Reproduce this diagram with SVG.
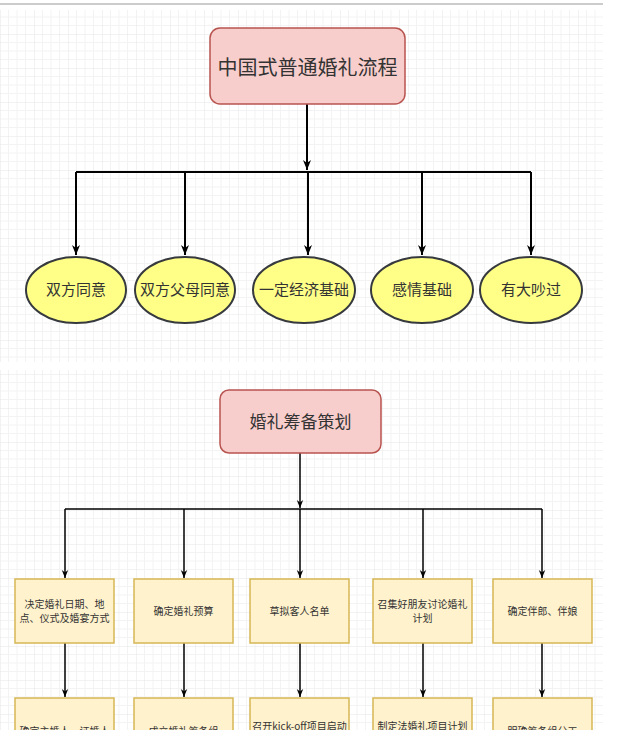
<svg xmlns="http://www.w3.org/2000/svg" width="640" height="730" viewBox="0 0 640 730">
  <defs>
    <pattern id="grid" width="34" height="34" patternUnits="userSpaceOnUse">
      <path d="M8.5 0V34M17 0V34M25.5 0V34M0 8.5H34M0 17H34M0 25.5H34" stroke="#f3f3f3" stroke-width="1" fill="none"/>
      <path d="M0 0V34M0 0H34" stroke="#e6e6e6" stroke-width="1" fill="none"/>
    </pattern>
    <marker id="arrBig" viewBox="0 0 10 10" refX="10" refY="5" markerWidth="10" markerHeight="10" markerUnits="userSpaceOnUse" orient="auto">
      <path d="M0,1 L10,5 L0,9 L3,5 z" fill="#000"/>
    </marker>
    <marker id="arrSmall" viewBox="0 0 10 10" refX="10" refY="5" markerWidth="8" markerHeight="8" markerUnits="userSpaceOnUse" orient="auto">
      <path d="M0,1 L10,5 L0,9 L3,5 z" fill="#000"/>
    </marker>
    <style>
      .root { fill: #f8cecc; stroke: #b85450; stroke-width: 1.5; }
      .ell { fill: #ffff88; stroke: #36393d; stroke-width: 2; }
      .box { fill: #fff2cc; stroke: #d6b656; stroke-width: 1.5; }
      .t { font-family: "Noto Sans CJK SC", "Noto Sans", sans-serif; fill: #333; text-anchor: middle; }
      .big { font-size: 20px; }
      .mid { font-size: 17px; }
      .el { font-size: 15px; }
      .sm { font-size: 10px; }
      .c1 { stroke: #000; stroke-width: 2; fill: none; }
      .c2 { stroke: #000; stroke-width: 1.5; fill: none; }
    </style>
  </defs>

  <rect width="640" height="730" fill="#fff"/>
  <rect x="0" y="10" width="603" height="352" fill="url(#grid)"/>
  <rect x="0" y="370" width="603" height="360" fill="url(#grid)"/>
  <line x1="0" y1="4" x2="603" y2="4" stroke="#cccccc" stroke-width="2"/>

  <g id="connectors">
    <path class="c1" d="M307 104V170" marker-end="url(#arrBig)"/>
    <path class="c1" d="M76 172H531"/>
    <path class="c1" d="M76 172V255" marker-end="url(#arrBig)"/>
    <path class="c1" d="M185 172V255" marker-end="url(#arrBig)"/>
    <path class="c1" d="M308 172V255" marker-end="url(#arrBig)"/>
    <path class="c1" d="M422 172V255" marker-end="url(#arrBig)"/>
    <path class="c1" d="M531 172V255" marker-end="url(#arrBig)"/>

    <path class="c2" d="M300 453V508" marker-end="url(#arrSmall)"/>
    <path class="c2" d="M65 509H542"/>
    <path class="c2" d="M65 509V578" marker-end="url(#arrSmall)"/>
    <path class="c2" d="M184 509V578" marker-end="url(#arrSmall)"/>
    <path class="c2" d="M300 509V578" marker-end="url(#arrSmall)"/>
    <path class="c2" d="M423 509V578" marker-end="url(#arrSmall)"/>
    <path class="c2" d="M542 509V578" marker-end="url(#arrSmall)"/>

    <path class="c2" d="M65 643V697" marker-end="url(#arrSmall)"/>
    <path class="c2" d="M184 643V697" marker-end="url(#arrSmall)"/>
    <path class="c2" d="M300 643V697" marker-end="url(#arrSmall)"/>
    <path class="c2" d="M423 643V697" marker-end="url(#arrSmall)"/>
    <path class="c2" d="M542 643V697" marker-end="url(#arrSmall)"/>
  </g>

  <g id="root1">
    <rect class="root" x="210" y="28" width="195" height="76" rx="10"/>
    <text class="t big" x="307.5" y="75">中国式普通婚礼流程</text>
  </g>
  <g id="e1">
    <ellipse class="ell" cx="76" cy="290" rx="50" ry="33"/>
    <text class="t el" x="76" y="295">双方同意</text>
  </g>
  <g id="e2">
    <ellipse class="ell" cx="185" cy="290" rx="50" ry="33"/>
    <text class="t el" x="185" y="295">双方父母同意</text>
  </g>
  <g id="e3">
    <ellipse class="ell" cx="304" cy="290" rx="51" ry="33"/>
    <text class="t el" x="304" y="295">一定经济基础</text>
  </g>
  <g id="e4">
    <ellipse class="ell" cx="422" cy="290" rx="51" ry="33"/>
    <text class="t el" x="422" y="295">感情基础</text>
  </g>
  <g id="e5">
    <ellipse class="ell" cx="531" cy="290" rx="51" ry="33"/>
    <text class="t el" x="531" y="295">有大吵过</text>
  </g>

  <g id="root2">
    <rect class="root" x="220" y="390" width="161" height="63" rx="9"/>
    <text class="t mid" x="300.5" y="428">婚礼筹备策划</text>
  </g>

  <g id="b1">
    <rect class="box" x="15" y="579" width="99" height="64"/>
    <text class="t sm" x="64.5" y="608">决定婚礼日期、地</text>
    <text class="t sm" x="64.5" y="622">点、仪式及婚宴方式</text>
  </g>
  <g id="b2">
    <rect class="box" x="134" y="579" width="99" height="64"/>
    <text class="t sm" x="183.5" y="615">确定婚礼预算</text>
  </g>
  <g id="b3">
    <rect class="box" x="250" y="579" width="99" height="64"/>
    <text class="t sm" x="299.5" y="615">草拟客人名单</text>
  </g>
  <g id="b4">
    <rect class="box" x="373" y="579" width="99" height="64"/>
    <text class="t sm" x="422.5" y="608">召集好朋友讨论婚礼</text>
    <text class="t sm" x="422.5" y="622">计划</text>
  </g>
  <g id="b5">
    <rect class="box" x="493" y="579" width="99" height="64"/>
    <text class="t sm" x="542.5" y="615">确定伴郎、伴娘</text>
  </g>

  <g id="c1">
    <rect class="box" x="15" y="698" width="99" height="64"/>
    <text class="t sm" x="64.5" y="734.5">确定主婚人、证婚人</text>
  </g>
  <g id="c2">
    <rect class="box" x="134" y="698" width="99" height="64"/>
    <text class="t sm" x="183.5" y="734.5">成立婚礼筹备组</text>
  </g>
  <g id="c3">
    <rect class="box" x="250" y="698" width="99" height="64"/>
    <text class="t sm" x="299.5" y="729.5">召开kick-off项目启动</text>
  </g>
  <g id="c4">
    <rect class="box" x="373" y="698" width="99" height="64"/>
    <text class="t sm" x="422.5" y="730">制定法婚礼项目计划</text>
  </g>
  <g id="c5">
    <rect class="box" x="493" y="698" width="99" height="64"/>
    <text class="t sm" x="542.5" y="734.5">明确筹备组分工</text>
  </g>
</svg>
